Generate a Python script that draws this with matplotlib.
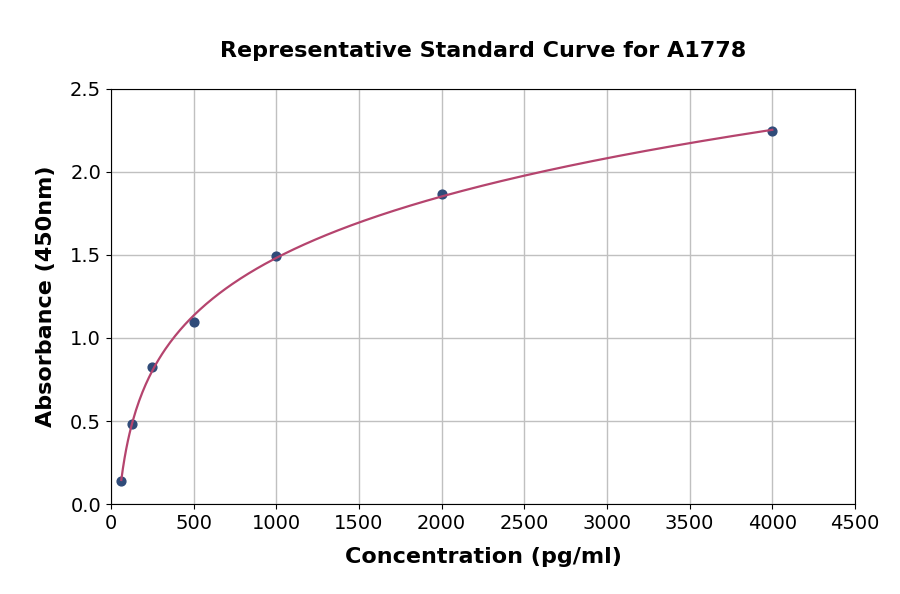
import matplotlib
matplotlib.use("Agg")
import matplotlib.pyplot as plt
import numpy as np

conc = [62.5, 125, 250, 500, 1000, 2000, 4000]
absorb = [0.14, 0.48, 0.825, 1.095, 1.494, 1.866, 2.247]

x = np.array(conc)
y = np.array(absorb)
# smooth standard curve: cubic fit in log(concentration)
coef = np.polyfit(np.log(x), y, 3)
xs = np.linspace(x.min(), x.max(), 400)
ys = np.polyval(coef, np.log(xs))

fig = plt.figure(figsize=(9, 5.94), dpi=100)
ax = fig.add_axes([0.1233, 0.1515, 0.8267, 0.6987])
ax.grid(True, color="#c0c0c0", lw=1)
ax.set_axisbelow(True)
ax.scatter(x, y, s=40, color="#2f4b79", zorder=3)
ax.plot(xs, ys, color="#b5446e", lw=1.6, zorder=4)
ax.set_xlim(0, 4500)
ax.set_ylim(0, 2.5)
ax.set_xticks(np.arange(0, 4501, 500))
ax.set_yticks(np.arange(0, 2.51, 0.5))
ax.tick_params(labelsize=14)
ax.set_xlabel("Concentration (pg/ml)", fontsize=16, fontweight="bold", labelpad=10)
ax.set_ylabel("Absorbance (450nm)", fontsize=16, fontweight="bold", labelpad=10)
ax.set_title("Representative Standard Curve for A1778", fontsize=16,
             fontweight="bold", pad=23)
fig.savefig("out.png", dpi=100)
